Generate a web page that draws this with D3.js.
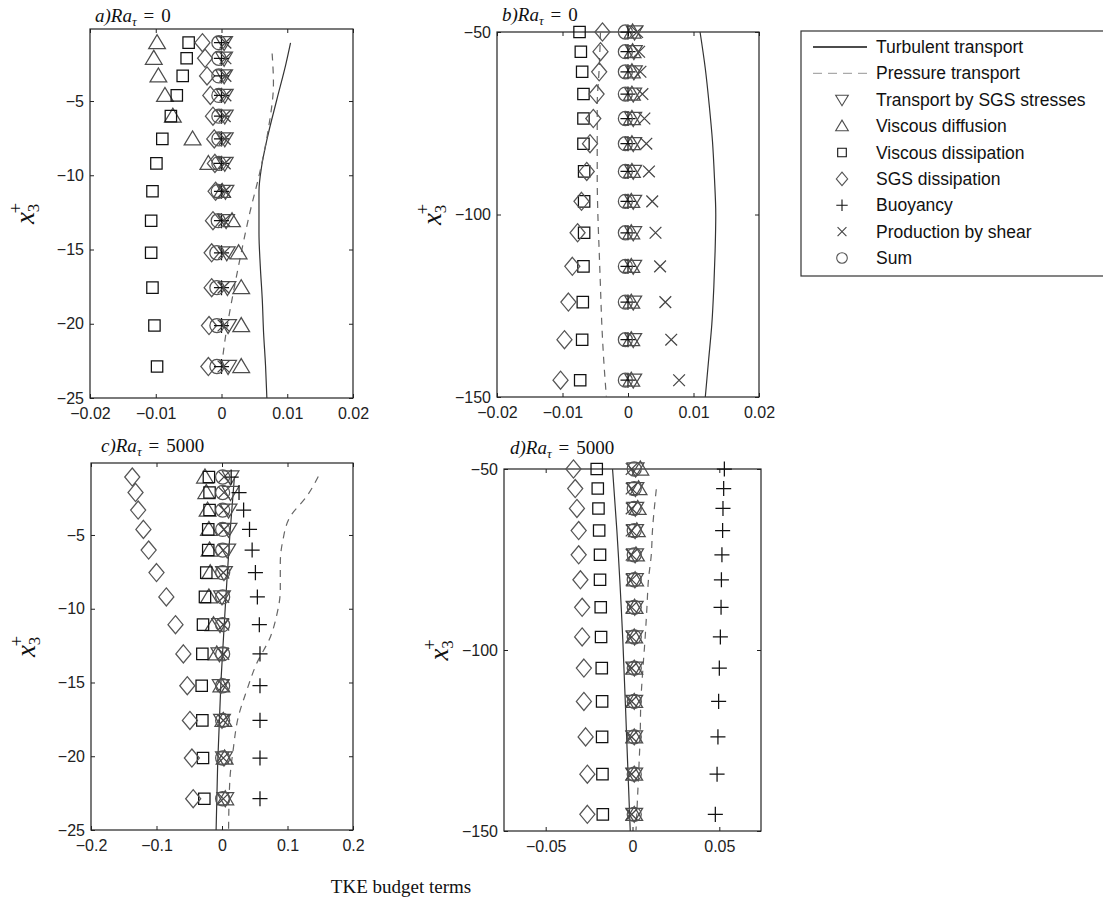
<!DOCTYPE html>
<html>
<head>
<meta charset="utf-8">
<script src="https://cdn.jsdelivr.net/npm/d3@7"></script>
<style>
body{margin:0;background:#fff;}
svg{display:block;}
</style>
</head>
<body>
<div id="vis"></div>
<script>
// x3+ heights of the marker rows (a,c share one grid, b,d the other)
var rowsSmall = [-1.07, -2.12, -3.31, -4.62, -6.02, -7.55, -9.2, -11.08, -13.06, -15.22, -17.57, -20.12, -22.88];
var rowsLarge = [-50, -55.4, -60.9, -67.0, -73.7, -80.6, -88.2, -96.4, -105.0, -114.2, -124.0, -134.3, -145.4];

var seriesNames = ["Turbulent transport", "Pressure transport", "Transport by SGS stresses", "Viscous diffusion",
    "Viscous dissipation", "SGS dissipation", "Buoyancy", "Production by shear", "Sum"];

// ---- panel a) Ra=0, near wall
var turbA_z = [-1.09, -2.5, -4.93, -7.62, -9.41, -11.09, -13.88, -16.12, -18.36, -20.6, -22.83, -25];
var turbA_x = [0.0105, 0.0098, 0.0084, 0.0069, 0.0061, 0.0057, 0.0057, 0.0059, 0.0062, 0.0064, 0.0067, 0.0069];
var pressA_z = [-1.8, -3.81, -6.95, -9.85, -12.54, -15.22, -17.9, -20.6, -22.9];
var pressA_x = [0.0077, 0.0079, 0.0071, 0.0058, 0.0043, 0.0030, 0.0018, 0.0007, 0.0];
var sgsTransA = [0.0004, 0.0004, 0.0004, 0.0005, 0.0005, 0.0005, 0.0005, 0.0006, 0.0007, 0.0008, 0.0009, 0.0010, 0.0010];
var viscDiffA = [-0.0098, -0.0103, -0.0096, -0.0086, -0.0074, -0.0044, -0.0020, 0.0001, 0.0016, 0.0026, 0.0030, 0.0030, 0.0030];
var viscDissA = [-0.0050, -0.0053, -0.0059, -0.0068, -0.0077, -0.0090, -0.0099, -0.0105, -0.0107, -0.0107, -0.0105, -0.0102, -0.0098];
var sgsDissA = [-0.0029, -0.0025, -0.0022, -0.0017, -0.0013, -0.0011, -0.0010, -0.0009, -0.0013, -0.0015, -0.0015, -0.0019, -0.0020];
var buoyA = [0, 0, 0, 0, 0, 0, 0, 0, 0, 0, 0, 0, 0];
var shearA = [0.0006, 0.0006, 0.0006, 0.0006, 0.0005, 0.0005, 0.0005, 0.0005, 0.0004, 0.0004, 0.0003, 0.0003, 0.0003];
var sumA = [-0.0004, -0.0004, -0.0004, -0.0004, -0.0004, -0.0004, -0.0004, -0.0005, -0.0005, -0.0007, -0.0007, -0.0007, -0.0007];

// ---- panel b) Ra=0, outer
var turbB_z = [-50, -60, -70, -80, -90, -100, -110, -120, -130, -140, -150];
var turbB_x = [0.0110, 0.0118, 0.0124, 0.0129, 0.0132, 0.0134, 0.0133, 0.0131, 0.0128, 0.0123, 0.0118];
var pressB_z = [-50, -60, -70, -80, -90, -100, -110, -120, -130, -140, -150];
var pressB_x = [-0.0042, -0.0044, -0.0047, -0.0047, -0.0047, -0.0046, -0.0044, -0.0042, -0.0040, -0.0037, -0.0033];
var sgsTransB = [0.0010, 0.0009, 0.0009, 0.0008, 0.0008, 0.0008, 0.0008, 0.0008, 0.0008, 0.0008, 0.0008, 0.0008, 0.0008];
var viscDiffB = [0.0007, 0.0007, 0.0006, 0.0006, 0.0006, 0.0006, 0.0006, 0.0005, 0.0005, 0.0005, 0.0005, 0.0005, 0.0005];
var viscDissB = [-0.0074, -0.0072, -0.0070, -0.0068, -0.0068, -0.0068, -0.0067, -0.0067, -0.0067, -0.0068, -0.0069, -0.0070, -0.0073];
var sgsDissB = [-0.0039, -0.0042, -0.0044, -0.0048, -0.0053, -0.0058, -0.0063, -0.0071, -0.0077, -0.0085, -0.0091, -0.0097, -0.0103];
var buoyB = [0, 0, 0, 0, 0, 0, 0, 0, 0, 0, 0, 0, 0];
var shearB = [0.0014, 0.0017, 0.0019, 0.0022, 0.0025, 0.0028, 0.0032, 0.0037, 0.0042, 0.0049, 0.0057, 0.0066, 0.0078];
var sumB = [-0.0004, -0.0004, -0.0004, -0.0004, -0.0004, -0.0004, -0.0004, -0.0004, -0.0004, -0.0004, -0.0004, -0.0004, -0.0004];

// ---- panel c) Ra=5000, near wall
var turbC_z = [-1.04, -5, -9.18, -14.84, -20.5, -25];
var turbC_x = [0.019, 0.012, 0.006, -0.0015, -0.0066, -0.009];
var pressC_z = [-1.04, -2.4, -3.76, -5.34, -6.92, -8.73, -10.54, -11.9, -13.7, -15.51, -17.32, -19.58, -21.61, -25];
var pressC_x = [0.147, 0.129, 0.104, 0.093, 0.089, 0.089, 0.083, 0.074, 0.053, 0.038, 0.025, 0.017, 0.012, 0.010];
var sgsTransC = [0.013, 0.013, 0.010, 0.010, 0.008, 0.003, 0.000, -0.003, -0.004, -0.002, 0.000, 0.003, 0.005];
var viscDiffC = [-0.026, -0.024, -0.022, -0.020, -0.019, -0.018, -0.020, -0.013, -0.008, -0.001, 0.002, 0.004, 0.005];
var viscDissC = [-0.020, -0.019, -0.019, -0.021, -0.021, -0.024, -0.026, -0.029, -0.030, -0.031, -0.030, -0.029, -0.027];
var sgsDissC = [-0.137, -0.132, -0.128, -0.120, -0.112, -0.100, -0.085, -0.071, -0.059, -0.053, -0.049, -0.046, -0.044];
var buoyC = [0.014, 0.026, 0.033, 0.042, 0.046, 0.051, 0.054, 0.057, 0.058, 0.058, 0.058, 0.058, 0.058];
var shearC = [0.003, 0.003, 0.003, 0.003, 0.002, 0.002, 0.002, 0.002, 0.002, 0.002, 0.002, 0.002, 0.002];
var sumC = [0.001, 0.001, 0.001, 0.001, 0.001, 0.001, 0.001, 0.001, 0.001, 0.001, 0.001, 0.001, 0.001];

// ---- panel d) Ra=5000, outer
var turbD_z = [-50, -67, -97, -125, -150];
var turbD_x = [-0.0115, -0.0090, -0.0056, -0.0033, -0.0013];
var pressD_z = [-55.6, -67, -73.8, -80.5, -88.3, -96.5, -105.1, -114.3, -124, -134.3, -150];
var pressD_x = [0.0137, 0.0115, 0.0108, 0.0092, 0.0083, 0.0073, 0.0060, 0.0048, 0.0044, 0.0035, 0.0020];
var sgsTransD = [0.0018, 0.0017, 0.0016, 0.0015, 0.0015, 0.0014, 0.0013, 0.0012, 0.0011, 0.0010, 0.0010, 0.0010, 0.0010];
var viscDiffD = [0.0045, 0.0035, 0.0030, 0.0025, 0.0020, 0.0015, 0.0012, 0.0010, 0.0010, 0.0010, 0.0010, 0.0010, 0.0010];
var viscDissD = [-0.0206, -0.0200, -0.0196, -0.0192, -0.0187, -0.0187, -0.0183, -0.0181, -0.0177, -0.0175, -0.0175, -0.0173, -0.0171];
var sgsDissD = [-0.034, -0.033, -0.032, -0.031, -0.031, -0.030, -0.029, -0.029, -0.028, -0.028, -0.027, -0.026, -0.026];
var buoyD = [0.0529, 0.0525, 0.0521, 0.0519, 0.0515, 0.0512, 0.0510, 0.0506, 0.0500, 0.0496, 0.0492, 0.0487, 0.0477];
var shearD = [-0.0005, -0.0005, -0.0005, -0.0005, -0.0005, -0.0005, -0.0005, -0.0005, -0.0005, -0.0005, -0.0005, -0.0005, -0.0005];
var sumD = [0.0010, 0.0010, 0.0010, 0.0010, 0.0010, 0.0010, 0.0010, 0.0010, 0.0010, 0.0010, 0.0010, 0.0010, 0.0010];

var ticksSmallX = [-0.02, -0.01, 0, 0.01, 0.02];
var ticksC_X = [-0.2, -0.1, 0, 0.1, 0.2];
var ticksD_X = [-0.05, 0, 0.05];
var ticksSmallY = [-25, -20, -15, -10, -5];
var ticksLargeY = [-150, -100, -50];

var SANS = "'Liberation Sans', Arial, sans-serif";
var SERIF = "'Liberation Serif', 'Times New Roman', serif";

// marker shapes, r = half width of triangle
var sym = {
    triDown: {draw: function(c, s){ var r = Math.sqrt(s); c.moveTo(-r, -r*0.72); c.lineTo(r, -r*0.72); c.lineTo(0, r*0.95); c.closePath(); }},
    triUp: {draw: function(c, s){ var r = Math.sqrt(s); c.moveTo(-r, r*0.72); c.lineTo(r, r*0.72); c.lineTo(0, -r*0.95); c.closePath(); }},
    square: {draw: function(c, s){ var r = Math.sqrt(s)*0.68; c.rect(-r, -r, 2*r, 2*r); }},
    diamond: {draw: function(c, s){ var r = Math.sqrt(s); c.moveTo(0, -r*1.08); c.lineTo(r*0.9, 0); c.lineTo(0, r*1.08); c.lineTo(-r*0.9, 0); c.closePath(); }},
    plus: {draw: function(c, s){ var r = Math.sqrt(s)*0.9; c.moveTo(-r, 0); c.lineTo(r, 0); c.moveTo(0, -r); c.lineTo(0, r); }},
    cross: {draw: function(c, s){ var r = Math.sqrt(s)*0.7; c.moveTo(-r, -r); c.lineTo(r, r); c.moveTo(-r, r); c.lineTo(r, -r); }},
    circle: {draw: function(c, s){ var r = Math.sqrt(s)*0.84; c.moveTo(r, 0); c.arc(0, 0, r, 0, 2*Math.PI); }}
};
// order = legend order for the 7 marker series
var markerStyle = [
    {type: sym.triDown, color: "#4d4d4d"},
    {type: sym.triUp, color: "#4d4d4d"},
    {type: sym.square, color: "#111"},
    {type: sym.diamond, color: "#555"},
    {type: sym.plus, color: "#111"},
    {type: sym.cross, color: "#444"},
    {type: sym.circle, color: "#555"}
];

var panels = [
    {label: "a", ra: "0", box: [90, 29, 353, 398], xDom: [-0.02, 0.02], yDom: [-25, -0.15], xT: ticksSmallX, yT: ticksSmallY,
     rows: rowsSmall, turb: [turbA_z, turbA_x], press: [pressA_z, pressA_x],
     pts: [sgsTransA, viscDiffA, viscDissA, sgsDissA, buoyA, shearA, sumA], tpos: [95, 22]},
    {label: "b", ra: "0", box: [497, 32, 759, 397], xDom: [-0.02, 0.02], yDom: [-150, -50], xT: ticksSmallX, yT: ticksLargeY,
     rows: rowsLarge, turb: [turbB_z, turbB_x], press: [pressB_z, pressB_x],
     pts: [sgsTransB, viscDiffB, viscDissB, sgsDissB, buoyB, shearB, sumB], tpos: [502, 21]},
    {label: "c", ra: "5000", box: [91, 463, 353, 830], xDom: [-0.2, 0.2], yDom: [-25, -0.12], xT: ticksC_X, yT: ticksSmallY,
     rows: rowsSmall, turb: [turbC_z, turbC_x], press: [pressC_z, pressC_x],
     pts: [sgsTransC, viscDiffC, viscDissC, sgsDissC, buoyC, shearC, sumC], tpos: [101, 452]},
    {label: "d", ra: "5000", box: [504, 469, 761, 831], xDom: [-0.074, 0.074], yDom: [-150, -50], xT: ticksD_X, yT: ticksLargeY,
     rows: rowsLarge, turb: [turbD_z, turbD_x], press: [pressD_z, pressD_x],
     pts: [sgsTransD, viscDiffD, viscDissD, sgsDissD, buoyD, shearD, sumD], tpos: [510, 454]}
];

var svg = d3.select("#vis").append("svg")
    .attr("width", 1103)
    .attr("height", 909)
    .style("background", "#fff");

panels.forEach(function(p){
    var x = d3.scaleLinear().domain(p.xDom).range([p.box[0], p.box[2]]);
    var y = d3.scaleLinear().domain(p.yDom).range([p.box[3], p.box[1]]);
    var g = svg.append("g");
    var fmt = d3.format("");

    // axes, ticks pointing inward
    var ax = [
        d3.axisBottom(x).tickValues(p.xT).tickFormat(fmt).tickSizeInner(-4).tickSizeOuter(0).tickPadding(10),
        d3.axisTop(x).tickValues(p.xT).tickFormat("").tickSizeInner(-4).tickSizeOuter(0),
        d3.axisLeft(y).tickValues(p.yT).tickFormat(fmt).tickSizeInner(-4).tickSizeOuter(0).tickPadding(6),
        d3.axisRight(y).tickValues(p.yT).tickFormat("").tickSizeInner(-4).tickSizeOuter(0)
    ];
    var tr = ["translate(0," + p.box[3] + ")", "translate(0," + p.box[1] + ")",
              "translate(" + p.box[0] + ",0)", "translate(" + p.box[2] + ",0)"];
    ax.forEach(function(a, i){
        var ag = g.append("g").attr("transform", tr[i]).call(a);
        ag.select(".domain").remove();
        ag.selectAll("line").attr("stroke", "#222");
        ag.selectAll("text").attr("fill", "#222").style("font-family", SANS).style("font-size", "16px");
    });
    g.append("rect")
        .attr("x", p.box[0]).attr("y", p.box[1])
        .attr("width", p.box[2] - p.box[0]).attr("height", p.box[3] - p.box[1])
        .attr("fill", "none").attr("stroke", "#222").attr("stroke-width", 1.2);

    // lines
    var line = d3.line().x(function(d){ return x(d[1]); }).y(function(d){ return y(d[0]); }).curve(d3.curveMonotoneY);
    g.append("path")
        .datum(d3.zip(p.turb[0], p.turb[1]))
        .attr("d", line).attr("fill", "none").attr("stroke", "#333").attr("stroke-width", 1.2);
    g.append("path")
        .datum(d3.zip(p.press[0], p.press[1]))
        .attr("d", line).attr("fill", "none").attr("stroke", "#666").attr("stroke-width", 1.2)
        .attr("stroke-dasharray", "7,6");

    // markers
    p.pts.forEach(function(vals, k){
        var st = markerStyle[k];
        g.append("g").selectAll("path")
            .data(d3.zip(p.rows, vals))
            .enter().append("path")
            .attr("transform", function(d){ return "translate(" + x(d[1]) + "," + y(d[0]) + ")"; })
            .attr("d", d3.symbol().type(st.type).size(70))
            .attr("fill", "none")
            .attr("stroke", st.color)
            .attr("stroke-width", 1.25);
    });

    // title  a)Ra_tau = 0
    var t = svg.append("text")
        .attr("x", p.tpos[0]).attr("y", p.tpos[1])
        .style("font-family", SERIF).style("font-size", "19px").attr("fill", "#111");
    t.append("tspan").style("font-style", "italic").text(p.label + ")Ra");
    t.append("tspan").style("font-style", "italic").style("font-size", "13px").attr("dy", 4).text("\u03c4");
    t.append("tspan").attr("dx", 7).attr("dy", -4).text("=");
    t.append("tspan").attr("dx", 7).text(p.ra);

    // y label x3+
    var midY = (p.box[1] + p.box[3]) / 2;
    var yl = svg.append("text")
        .attr("transform", "translate(" + (p.box[0] - 56) + "," + midY + ") rotate(-90)")
        .attr("text-anchor", "middle")
        .style("font-family", SERIF).attr("fill", "#111");
    yl.append("tspan").style("font-style", "italic").style("font-size", "27px").text("x");
    yl.append("tspan").style("font-size", "17px").attr("dy", 5).text("3");
    yl.append("tspan").style("font-size", "19px").attr("dx", -10).attr("dy", -17).text("+");
});

// common x label
svg.append("text")
    .attr("x", 401).attr("y", 893)
    .attr("text-anchor", "middle")
    .style("font-family", SERIF).style("font-size", "19px").attr("fill", "#111")
    .text("TKE budget terms");

// legend
var lg = svg.append("g");
lg.append("rect")
    .attr("x", 801).attr("y", 31).attr("width", 330).attr("height", 245)
    .attr("fill", "#fff").attr("stroke", "#333").attr("stroke-width", 1.2);
var ly = d3.scalePoint().domain(seriesNames).range([47, 258]);
lg.append("line").attr("x1", 813).attr("x2", 867).attr("y1", ly(seriesNames[0])).attr("y2", ly(seriesNames[0]))
    .attr("stroke", "#111").attr("stroke-width", 1.3);
lg.append("line").attr("x1", 813).attr("x2", 867).attr("y1", ly(seriesNames[1])).attr("y2", ly(seriesNames[1]))
    .attr("stroke", "#aaa").attr("stroke-width", 1.3).attr("stroke-dasharray", "9,6");
markerStyle.forEach(function(st, k){
    lg.append("path")
        .attr("transform", "translate(842," + ly(seriesNames[k + 2]) + ")")
        .attr("d", d3.symbol().type(st.type).size(40))
        .attr("fill", "none").attr("stroke", st.color).attr("stroke-width", 1.1);
});
lg.selectAll("text.leg")
    .data(seriesNames)
    .enter().append("text")
    .attr("class", "leg")
    .attr("x", 876)
    .attr("y", function(d){ return ly(d) + 6; })
    .style("font-family", SANS).style("font-size", "17.5px").attr("fill", "#111")
    .text(function(d){ return d; });
</script>
</body>
</html>
